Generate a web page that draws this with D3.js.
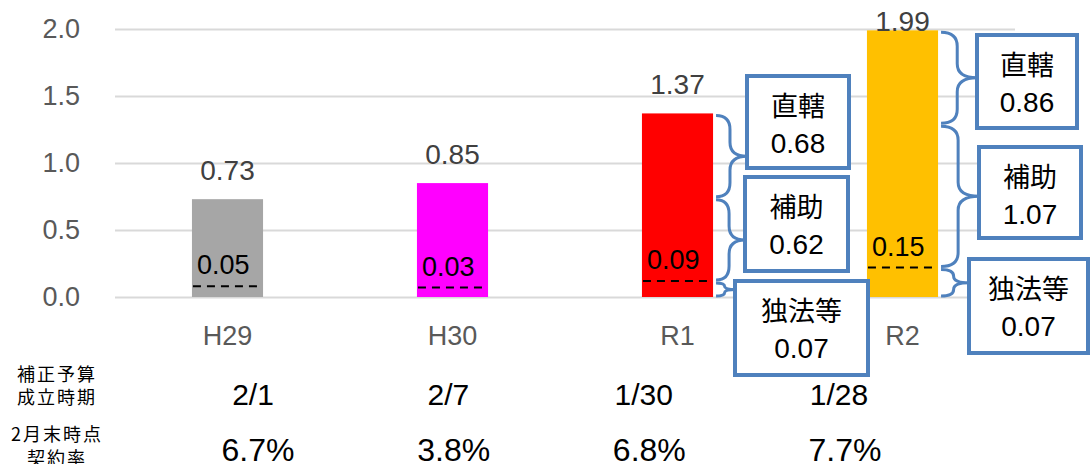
<!DOCTYPE html>
<html>
<head>
<meta charset="utf-8">
<script src="https://cdn.jsdelivr.net/npm/d3@7"></script>
<style>
  body { margin: 0; background: #fff; }
  svg { display: block; }
  text { font-family: "Liberation Sans", Arial, sans-serif; }
  .jp { font-family: "Noto Sans CJK JP", sans-serif; }
</style>
</head>
<body>
<svg></svg>
<script>
// data
const years = ["H29", "H30", "R1", "R2"]
const totals = [0.73, 0.85, 1.37, 1.99]
const colors = ["#A6A6A6", "#FF00FF", "#FF0000", "#FFC000"]
const innerLabels = ["0.05", "0.03", "0.09", "0.15"]
const dashLevels = [0.08, 0.07, 0.12, 0.22]   // where the dashed line sits in each bar
const yTicks = [0, 0.5, 1.0, 1.5, 2.0]

const partNames = ["直轄", "補助", "独法等"]
const r1Parts = [0.68, 0.62, 0.07]
const r2Parts = [0.86, 1.07, 0.07]

const passDates = ["2/1", "2/7", "1/30", "1/28"]
const contractRates = ["6.7%", "3.8%", "6.8%", "7.7%"]

const width = 1091
const height = 464

const svg = d3.select('svg')
  .attr('width', width)
  .attr('height', height)

const x = d3.scaleBand()
  .domain(years)
  .range([115, 1015])
  .paddingInner(0.684)
  .paddingOuter(0.342)

const y = d3.scaleLinear()
  .domain([0, 2])
  .range([297, 29])

// gridlines + tick labels
const yAxis = svg.append("g")
  .attr("transform", "translate(115,0)")
  .call(d3.axisLeft(y).tickValues(yTicks).tickFormat(d3.format(".1f")).tickSize(-900).tickPadding(35))
yAxis.select(".domain").remove()
yAxis.selectAll("line").attr("stroke", "#D9D9D9").attr("stroke-width", 2)
yAxis.selectAll("text")
  .attr("fill", "#595959")
  .style("font-size", "27px")
  .style("font-family", '"Liberation Sans", Arial, sans-serif')

// bars
svg.selectAll("rect.bar")
  .data(years)
  .enter().append("rect")
    .attr("class", "bar")
    .attr("x", d => x(d))
    .attr("width", x.bandwidth())
    .attr("y", (d, i) => y(totals[i]))
    .attr("height", (d, i) => y(0) - y(totals[i]))
    .attr("fill", (d, i) => colors[i])

// dashed lines inside bars
svg.selectAll("line.dash")
  .data(years)
  .enter().append("line")
    .attr("x1", d => x(d) + 1)
    .attr("x2", d => x(d) + x.bandwidth() - 5)
    .attr("y1", (d, i) => y(dashLevels[i]))
    .attr("y2", (d, i) => y(dashLevels[i]))
    .attr("stroke", "#000")
    .attr("stroke-width", 2)
    .attr("stroke-dasharray", "8,6")

svg.selectAll("text.inner")
  .data(years)
  .enter().append("text")
    .attr("x", d => x(d) + 5)
    .attr("y", (d, i) => y(dashLevels[i]) - 12)
    .style("font-size", "27px")
    .attr("fill", "#000")
    .text((d, i) => innerLabels[i])

// totals above bars
svg.selectAll("text.total")
  .data(years)
  .enter().append("text")
    .attr("x", d => x(d) + x.bandwidth() / 2)
    .attr("y", (d, i) => Math.max(y(totals[i]) - 19, 31))
    .attr("text-anchor", "middle")
    .style("font-size", "28px")
    .attr("fill", "#404040")
    .text((d, i) => totals[i].toFixed(2))

// category labels
svg.selectAll("text.cat")
  .data(years)
  .enter().append("text")
    .attr("x", d => x(d) + x.bandwidth() / 2)
    .attr("y", 345)
    .attr("text-anchor", "middle")
    .style("font-size", "27px")
    .attr("fill", "#595959")
    .text(d => d)

// callout boxes (layout only)
const boxLayout = {
  R1: [{x: 747, y: 76, w: 102, h: 92}, {x: 745, y: 177, w: 103, h: 94}, {x: 735, y: 281, w: 133, h: 94}],
  R2: [{x: 977, y: 35, w: 100, h: 93}, {x: 979, y: 147, w: 102, h: 91}, {x: 969, y: 259, w: 119, h: 94}]
}

function brace(x0, x1, y0, y1) {
  const xm = x0 + (x1 - x0) * 0.45
  const ym = (y0 + y1) / 2
  const r = Math.min(14, (y1 - y0) / 4)
  return "M" + x0 + "," + y0 +
    " Q" + xm + "," + y0 + " " + xm + "," + (y0 + r) +
    " L" + xm + "," + (ym - r) +
    " Q" + xm + "," + ym + " " + x1 + "," + ym +
    " Q" + xm + "," + ym + " " + xm + "," + (ym + r) +
    " L" + xm + "," + (y1 - r) +
    " Q" + xm + "," + y1 + " " + x0 + "," + y1
}

function callouts(year, parts) {
  const i = years.indexOf(year)
  const x0 = x(year) + x.bandwidth() + 3
  // stacked from the bottom: 独法等 up to the dashed line, then 補助, then 直轄 to the top
  const levels = [totals[i], dashLevels[i] + parts[1], dashLevels[i], 0]
  const boxes = boxLayout[year]
  const g = svg.append("g")

  parts.forEach((p, k) => {
    g.append("path")
      .attr("d", brace(x0, boxes[k].x, y(levels[k]) + 2, y(levels[k + 1]) - 1))
      .attr("fill", "none")
      .attr("stroke", "#4F81BD")
      .attr("stroke-width", 3)
  })

  parts.forEach((p, k) => {
    const b = boxes[k]
    g.append("rect")
      .attr("x", b.x).attr("y", b.y)
      .attr("width", b.w).attr("height", b.h)
      .attr("fill", "#fff")
      .attr("stroke", "#4F81BD")
      .attr("stroke-width", 4)
    g.append("text")
      .attr("class", "jp")
      .attr("x", b.x + b.w / 2)
      .attr("y", b.y + 40)
      .attr("text-anchor", "middle")
      .style("font-size", "27px")
      .text(partNames[k])
    g.append("text")
      .attr("x", b.x + b.w / 2)
      .attr("y", b.y + 77)
      .attr("text-anchor", "middle")
      .style("font-size", "28px")
      .text(p.toFixed(2))
  })
}

callouts("R1", r1Parts)
callouts("R2", r2Parts)

// table below the chart
const dateCol = d3.scalePoint().domain(years).range([253, 839])
const rateCol = d3.scalePoint().domain(years).range([258, 845])

const rowLabels = [["補正予算", "成立時期"], ["2月末時点", "契約率"]]
const rowLabelY = [[381, 404], [441, 465]]
rowLabels.forEach((lines, r) => {
  lines.forEach((t, l) => {
    svg.append("text")
      .attr("class", "jp")
      .attr("x", 57)
      .attr("y", rowLabelY[r][l])
      .attr("text-anchor", "middle")
      .style("font-size", "18px")
      .style("letter-spacing", "2px")
      .text(t)
  })
})

svg.selectAll("text.date")
  .data(years)
  .enter().append("text")
    .attr("x", d => dateCol(d))
    .attr("y", 405)
    .attr("text-anchor", "middle")
    .style("font-size", "30px")
    .text((d, i) => passDates[i])

svg.selectAll("text.rate")
  .data(years)
  .enter().append("text")
    .attr("x", d => rateCol(d))
    .attr("y", 461)
    .attr("text-anchor", "middle")
    .style("font-size", "32px")
    .text((d, i) => contractRates[i])
</script>
</body>
</html>
